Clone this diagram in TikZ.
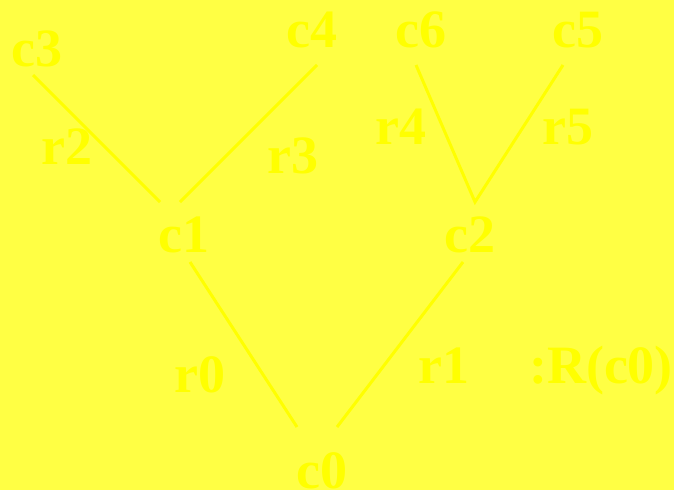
\documentclass[tikz,border=0pt]{standalone}
\usepackage{fontspec}
\setmainfont{Liberation Serif}
\definecolor{bg}{HTML}{FFFF44}
\definecolor{fg}{HTML}{FFFF00}
\begin{document}
\begin{tikzpicture}[x=1pt,y=-1pt,
  lbl/.style={anchor=base,inner sep=0pt,text=fg,font=\fontsize{54}{60}\selectfont\bfseries},
  edge/.style={draw=fg,line width=3pt}]
\fill[bg] (0,0) rectangle (674,490);
\useasboundingbox (0,0) rectangle (674,490);
% labels
\node[lbl] (c3) at (37,66) {c3};
\node[lbl] (c4) at (312,47) {c4};
\node[lbl] (c6) at (421,47) {c6};
\node[lbl] (c5) at (578,47) {c5};
\node[lbl] (r2) at (67,164) {r2};
\node[lbl] (r3) at (293,173) {r3};
\node[lbl] (r4) at (401,144) {r4};
\node[lbl] (r5) at (568,144) {r5};
\node[lbl] (c1) at (184,252) {c1};
\node[lbl] (c2) at (470,252) {c2};
\node[lbl] (r0) at (200,392) {r0};
\node[lbl] (r1) at (444,383) {r1};
\node[lbl] (R) at (601,383) {:R(c0)};
\node[lbl] (c0) at (322,488) {c0};
% connector ends
\coordinate (c3e) at (33,75);
\coordinate (c4e) at (317,65);
\coordinate (c6e) at (416,65);
\coordinate (c5e) at (563,65);
\coordinate (c1l) at (160,202);
\coordinate (c1r) at (180,202);
\coordinate (c2t) at (475,202);
\coordinate (c1b) at (190,262);
\coordinate (c2b) at (463,262);
\coordinate (c0l) at (297,427);
\coordinate (c0r) at (337,427);
\draw[edge] (c3e) -- (c1l);
\draw[edge] (c4e) -- (c1r);
\draw[edge] (c6e) -- (c2t) -- (c5e);
\draw[edge] (c1b) -- (c0l);
\draw[edge] (c2b) -- (c0r);
\end{tikzpicture}
\end{document}
